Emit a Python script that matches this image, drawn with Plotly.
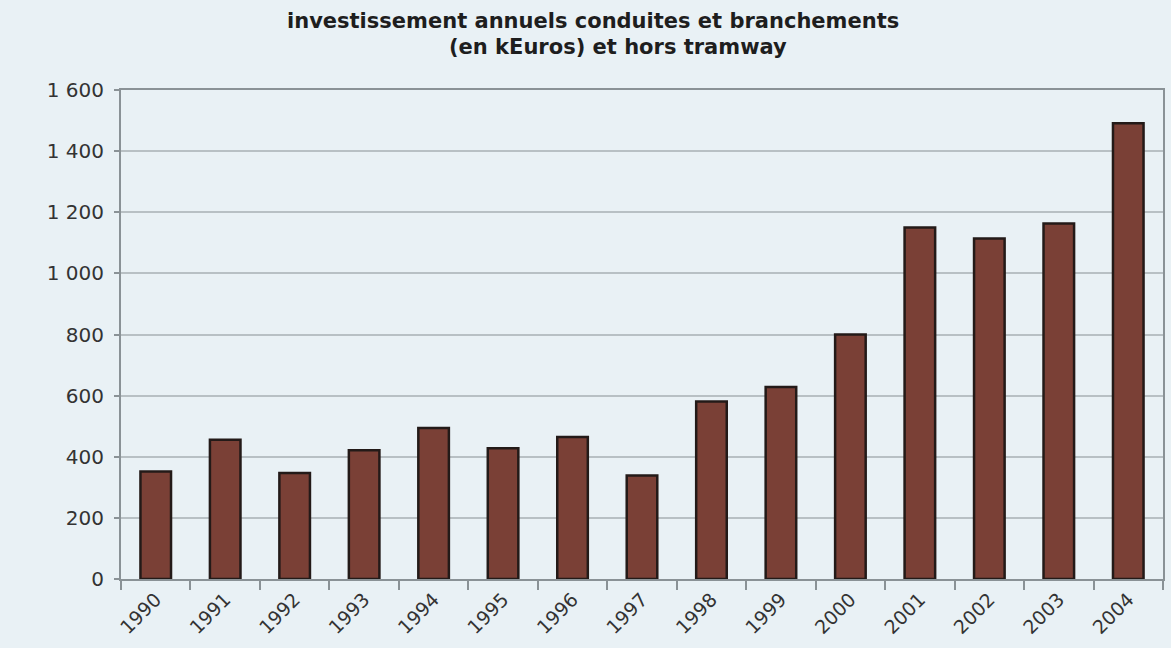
import plotly.graph_objects as go

years = ["1990", "1991", "1992", "1993", "1994", "1995", "1996", "1997",
         "1998", "1999", "2000", "2001", "2002", "2003", "2004"]
investissements = [352, 456, 347, 421, 494, 428, 465, 339,
                   581, 628, 800, 1150, 1114, 1163, 1491]
y_tick_values = [0, 200, 400, 600, 800, 1000, 1200, 1400, 1600]
y_tick_labels = ["0", "200", "400", "600", "800", "1 000", "1 200", "1 400", "1 600"]
title_lines = ["investissement annuels conduites et branchements",
               "(en kEuros) et hors tramway"]

bg = "#e9f1f5"
fig = go.Figure(go.Bar(
    x=years, y=investissements,
    marker=dict(color="#7a4036", line=dict(color="#231a18", width=2.5)),
    width=0.44,
))

title_font = dict(family="DejaVu Sans", size=21, color="#1e1e1e", weight="bold")
fig.add_annotation(text=title_lines[0], xref="paper", yref="paper",
                   x=0.453, y=1.141, xanchor="center", yanchor="middle",
                   showarrow=False, font=title_font)
fig.add_annotation(text=title_lines[1], xref="paper", yref="paper",
                   x=0.477, y=1.088, xanchor="center", yanchor="middle",
                   showarrow=False, font=title_font)

fig.update_layout(
    width=1171, height=648,
    paper_bgcolor=bg, plot_bgcolor=bg,
    margin=dict(l=121, r=6, t=90, b=69),
    showlegend=False,
    font=dict(family="DejaVu Sans", color="#333333"),
)

fig.update_xaxes(
    type="category", tickangle=-45, ticks="outside", ticklen=9, tickwidth=1.5,
    tickcolor="#8a9296", tickson="boundaries",
    showline=True, linecolor="#8a9296", linewidth=2, mirror=True,
    showgrid=False, tickfont=dict(size=19, color="#333333"),
)
fig.update_yaxes(
    range=[0, 1600], tickvals=y_tick_values, ticktext=y_tick_labels,
    ticks="outside", ticklen=5, tickwidth=1.5, tickcolor="#8a9296",
    ticklabelstandoff=6,
    showline=True, linecolor="#8a9296", linewidth=2, mirror=True,
    showgrid=True, gridcolor="#b8c0c4", gridwidth=1.5,
    zeroline=False, tickfont=dict(size=20, color="#333333"),
)

fig.write_html("out.html")
